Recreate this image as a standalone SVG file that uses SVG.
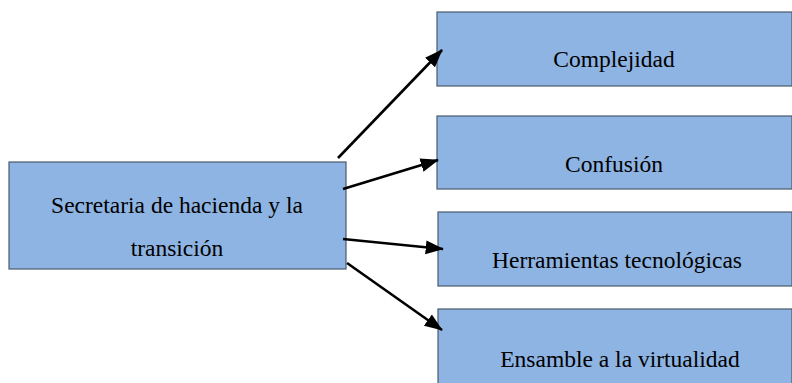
<svg xmlns="http://www.w3.org/2000/svg" width="792" height="383" viewBox="0 0 792 383">
<style>
.box{fill:#8EB4E3;stroke:#4A5A6B;stroke-width:1.2}
.t{font-family:"Liberation Serif","Times New Roman",serif;font-size:23.5px;fill:#000;text-anchor:middle}
.c{stroke:#000;stroke-width:2.6;fill:none;marker-end:url(#ah)}
</style>
<defs>
<marker id="ah" viewBox="0 0 10 10" refX="9.5" refY="5" markerWidth="7" markerHeight="7" markerUnits="strokeWidth" orient="auto">
<path d="M0,1.2 L10,5 L0,8.8 z" fill="#000"/>
</marker>
</defs>
<rect width="792" height="383" fill="#fff"/>
<g id="n0"><rect class="box" x="9" y="162" width="337" height="107"/>
<text class="t" x="177" y="213">Secretaria de hacienda y la</text>
<text class="t" x="177" y="256">transición</text></g>
<g id="n1"><rect class="box" x="437" y="12" width="355" height="74"/><text class="t" x="614" y="67">Complejidad</text></g>
<g id="n2"><rect class="box" x="437" y="116" width="355" height="73"/><text class="t" x="614" y="172">Confusión</text></g>
<g id="n3"><rect class="box" x="438" y="212" width="354" height="74"/><text class="t" x="617" y="268">Herramientas tecnológicas</text></g>
<g id="n4"><rect class="box" x="438" y="309" width="354" height="80"/><text class="t" x="620" y="367">Ensamble a la virtualidad</text></g>
<g id="connectors">
<line class="c" x1="338" y1="158" x2="442" y2="50"/>
<line class="c" x1="343" y1="189" x2="438" y2="160"/>
<line class="c" x1="343" y1="239" x2="443" y2="249"/>
<line class="c" x1="347" y1="263" x2="442" y2="330"/>
</g>
</svg>
